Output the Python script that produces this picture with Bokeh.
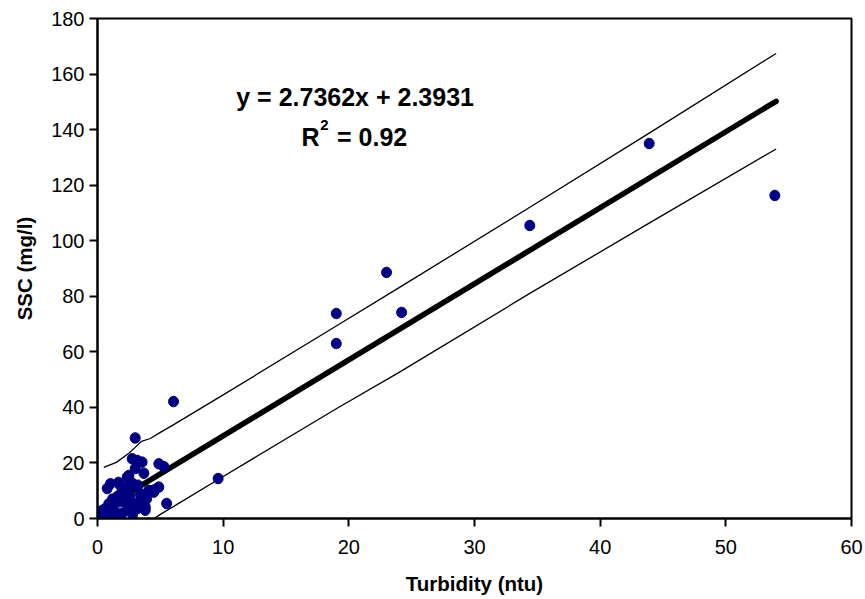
from bokeh.plotting import figure
from bokeh.models import Label, FixedTicker, Range1d
from bokeh.embed import file_html
from bokeh.resources import INLINE

# Observations: turbidity (ntu) vs SSC (mg/l)
turbidity = [6.05, 3.0, 19.0, 19.0, 23.0, 24.2, 34.4, 43.9, 53.9, 9.6, 5.5,
             2.76, 3.16, 3.55, 4.88, 5.28, 3.69, 2.5, 3.0,
             0.37, 1.43, 3.16, 3.8, 0.77, 1.03, 1.66, 2.36, 1.96, 3.0, 4.08,
             4.48, 4.88, 3.8, 3.29, 2.2, 2.5, 1.43, 0.9, 3.8, 0.5, 1.2,
             1.8, 2.6, 2.9, 3.4, 2.0, 1.0, 2.7, 3.9, 4.2, 0.3, 1.6, 2.4,
             3.6, 4.6, 2.1, 1.4, 2.8, 3.2, 1.1, 2.3, 1.7, 0.6]
ssc = [42.1, 29.0, 73.8, 63.0, 88.6, 74.2, 105.5, 135.0, 116.3, 14.4, 5.4,
       21.5, 20.9, 20.3, 19.7, 18.7, 16.3, 15.5, 18.0,
       2.9, 2.3, 3.6, 4.2, 10.8, 12.5, 13.0, 14.9, 10.0, 11.9, 10.1,
       9.5, 11.3, 7.2, 5.9, 5.9, 7.7, 7.1, 5.3, 3.0, 2.0, 7.0,
       12.0, 8.0, 5.0, 9.0, 2.0, 1.0, 13.0, 7.0, 10.0, 1.5, 8.0, 3.0,
       5.0, 10.5, 9.0, 0.8, 1.5, 12.0, 4.0, 11.0, 6.0, 3.5]

# Regression line (y = 2.7362x + 2.3931) end points
fit_x = [0.3, 54.0]
fit_y = [3.2, 150.2]

# Prediction band lines
upper_x = [0.5, 1.5, 2.5, 3.0, 3.5, 4.2, 5.0, 6.0, 10.0, 19.0, 24.0, 34.5, 44.0, 54.0]
upper_y = [18.4, 20.2, 23.5, 25.6, 27.8, 28.8, 31.0, 33.6, 44.5, 69.3, 83.1, 112.3, 139.0, 167.4]
lower_x = [4.1, 5.0, 6.0, 10.0, 19.0, 24.0, 34.5, 44.0, 54.0]
lower_y = [-1.2, 1.5, 4.2, 15.1, 39.5, 52.6, 81.3, 106.6, 133.0]

x_ticks = [0, 10, 20, 30, 40, 50, 60]
y_ticks = [0, 20, 40, 60, 80, 100, 120, 140, 160, 180]

FONT = "Liberation Sans"

p = figure(width=865, height=599, output_backend="svg", toolbar_location=None,
           x_range=Range1d(0, 60), y_range=Range1d(0, 180),
           min_border_left=97, min_border_right=14, min_border_top=18,
           min_border_bottom=81)

p.grid.visible = False
p.outline_line_color = "black"
p.outline_line_width = 2
p.background_fill_color = "white"
p.border_fill_color = "white"

p.xaxis.ticker = FixedTicker(ticks=x_ticks)
p.yaxis.ticker = FixedTicker(ticks=y_ticks)
for ax in (p.xaxis[0], p.yaxis[0]):
    ax.axis_line_color = "black"
    ax.axis_line_width = 2
    ax.major_tick_line_color = "black"
    ax.major_tick_line_width = 2
    ax.major_tick_in = 0
    ax.major_tick_out = 8
    ax.minor_tick_line_color = None
    ax.major_label_text_font = FONT
    ax.major_label_text_font_size = "20px"
    ax.major_label_text_color = "black"
    ax.axis_label_text_font = FONT
    ax.axis_label_text_font_size = "20.5px"
    ax.axis_label_text_font_style = "bold"
    ax.axis_label_text_color = "black"

p.xaxis.axis_label = "Turbidity (ntu)"
p.yaxis.axis_label = "SSC (mg/l)"
p.xaxis.major_label_standoff = 13
p.xaxis.axis_label_standoff = 15
p.yaxis.major_label_standoff = 5
p.yaxis.axis_label_standoff = 12

p.line(upper_x, upper_y, line_color="black", line_width=1.3)
p.line(lower_x, lower_y, line_color="black", line_width=1.3)
p.line(fit_x, fit_y, line_color="black", line_width=5.5, line_cap="round")

p.ellipse(turbidity, ssc, width=10, height=10.5, width_units="screen",
          height_units="screen", fill_color="#000080", line_color="#000080")

EQ = dict(text_font=FONT, text_font_style="bold", text_baseline="middle",
          text_color="black")
p.add_layout(Label(x=20.5, y=151.7, text="y = 2.7362x + 2.3931",
                   text_font_size="25px", text_align="center", **EQ))
p.add_layout(Label(x=16.95, y=137.5, text="R",
                   text_font_size="25px", text_align="center", **EQ))
p.add_layout(Label(x=18.06, y=141.8, text="2",
                   text_font_size="15px", text_align="center", **EQ))
p.add_layout(Label(x=19.06, y=137.5, text="= 0.92",
                   text_font_size="25px", text_align="left", **EQ))

open("out.html", "w").write(file_html(p, INLINE))
